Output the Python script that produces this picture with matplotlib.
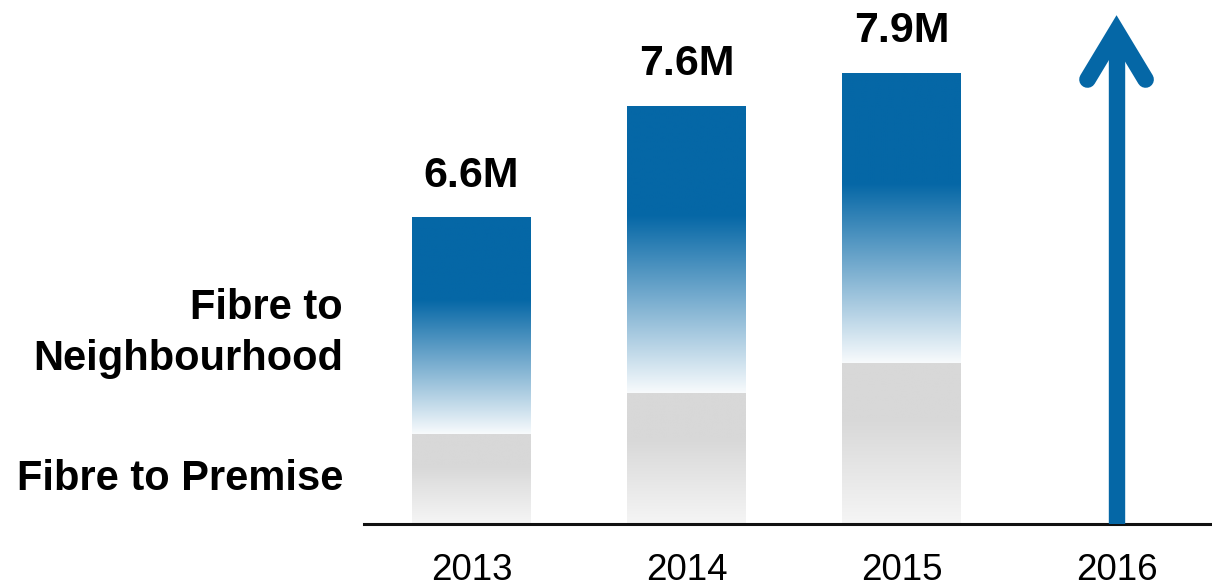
import numpy as np
import matplotlib.pyplot as plt
from matplotlib.colors import to_rgb

plt.rcParams['font.family'] = ['Liberation Sans', 'DejaVu Sans']

# Rollout by year, millions of premises
years = ['2013', '2014', '2015', '2016']
totals = [6.6, 7.6, 7.9]          # top of each bar
fttp_top = [4.67, 5.04, 5.31]     # where the premise segment ends
value_labels = ['6.6M', '7.6M', '7.9M']

BLUE = '#0567A6'
GREY = '#D8D8D8'
Y0, Y1 = 3.87, 8.55


def ramp(color, solid_frac, end_white, n=256):
    """Vertical colour ramp: solid at the top, fading towards white below."""
    c = np.array(to_rgb(color))
    f = np.linspace(0, 1, n)
    t = np.clip((f - solid_frac) / (1 - solid_frac), 0, 1) * end_white
    rgb = c[None, :] * (1 - t[:, None]) + t[:, None]
    return rgb[:, None, :]


fig = plt.figure(figsize=(12.12, 5.88), dpi=100)
ax = fig.add_axes([364 / 1212, 64 / 588, 848 / 1212, 524 / 588])

x = np.arange(len(years))
w = 0.553
blue_img = ramp(BLUE, 0.38, 0.97)
grey_img = ramp(GREY, 0.35, 0.75)

for i, (tot, split) in enumerate(zip(totals, fttp_top)):
    l, r = x[i] - w / 2, x[i] + w / 2
    ax.imshow(grey_img, extent=[l, r, Y0, split], aspect='auto',
              interpolation='bilinear', zorder=2)
    ax.imshow(blue_img, extent=[l, r, split, tot], aspect='auto',
              interpolation='bilinear', zorder=2)
    ax.annotate(value_labels[i], (x[i], tot), xytext=(0, 22.5),
                textcoords='offset points', ha='center', va='baseline',
                fontsize=31, fontweight='bold', color='black')

# growth arrow for 2016
ax.plot([3, 3], [Y0, 8.2], color=BLUE, lw=11.8, solid_capstyle='butt', zorder=3)
ax.plot([3 - 0.135, 3, 3 + 0.135], [7.84, 8.27, 7.84], color=BLUE, lw=12,
        solid_capstyle='round', solid_joinstyle='miter', zorder=3)

ax.set_xlim(-0.5, 3.444)
ax.set_ylim(Y0, Y1)
ax.set_xticks(x)
ax.set_xticklabels(years, fontsize=26.5)
ax.tick_params(axis='x', length=0, pad=21)
ax.set_yticks([])
for s in ['top', 'left', 'right']:
    ax.spines[s].set_visible(False)
ax.spines['bottom'].set_linewidth(2.2)
ax.spines['bottom'].set_color('#111111')
ax.set_facecolor('none')

fig.text(343 / 1212, 1 - 370 / 588, 'Fibre to\nNeighbourhood', ha='right',
         va='baseline', fontsize=30, fontweight='bold', linespacing=1.36)
fig.text(343 / 1212, 1 - 490 / 588, 'Fibre to Premise', ha='right',
         va='baseline', fontsize=30, fontweight='bold')

fig.savefig('out.png', dpi=100)
